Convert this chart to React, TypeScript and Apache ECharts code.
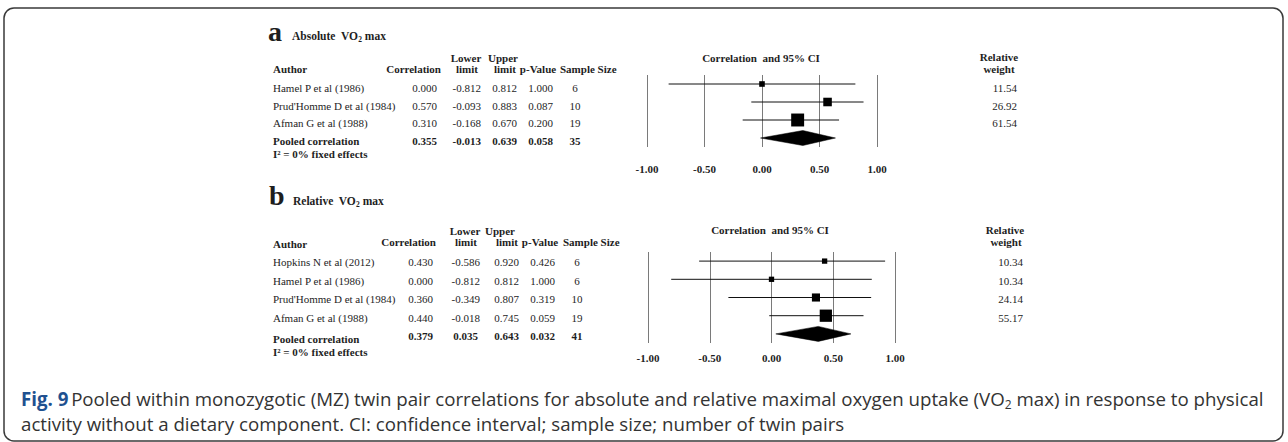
import React, { useEffect, useRef } from 'react';
import * as echarts from 'echarts';

// ---------- data ----------
const authorsA = ['Hamel P et al (1986)', "Prud'Homme D et al (1984)", 'Afman G et al (1988)'];
const corrA = [0.0, 0.57, 0.31];
const lowerA = [-0.812, -0.093, -0.168];
const upperA = [0.812, 0.883, 0.67];
const pA = [1.0, 0.087, 0.2];
const nA = [6, 10, 19];
const weightA = [11.54, 26.92, 61.54];
const pooledA = [0.355, -0.013, 0.639, 0.058, 35]; // corr, lower, upper, p, n

const authorsB = ['Hopkins N et al (2012)', 'Hamel P et al (1986)', "Prud'Homme D et al (1984)", 'Afman G et al (1988)'];
const corrB = [0.43, 0.0, 0.36, 0.44];
const lowerB = [-0.586, -0.812, -0.349, -0.018];
const upperB = [0.92, 0.812, 0.807, 0.745];
const pB = [0.426, 1.0, 0.319, 0.059];
const nB = [6, 6, 10, 19];
const weightB = [10.34, 10.34, 24.14, 55.17];
const pooledB = [0.379, 0.035, 0.643, 0.032, 41];

const tickValues = [-1, -0.5, 0, 0.5, 1];
const captionLine1a = 'Pooled within monozygotic (MZ) twin pair correlations for absolute and relative maximal oxygen uptake (VO';
const captionLine1b = ' max) in response to physical';
const captionLine2 = 'activity without a dietary component. CI: confidence interval; sample size; number of twin pairs';

// ---------- styles ----------
const SERIF = '"Liberation Serif", "Times New Roman", serif';
const SANS = '"Open Sans", "Noto Sans", sans-serif';
const INK = '#1e1e1e';

function t(text: string, x: number, y: number, o: any = {}) {
  const align = o.align || 'left';
  return {
    type: 'text',
    silent: true,
    style: {
      text,
      x,
      y,
      fill: o.fill || INK,
      fontSize: o.size || 11,
      fontFamily: o.family || SERIF,
      fontWeight: o.bold ? 'bold' : 'normal',
      align,
      textAlign: align,
      verticalAlign: 'middle',
      textVerticalAlign: 'middle',
      rich: o.rich,
    },
  };
}

const f3 = (v: number) => v.toFixed(3);

const titleRich = {
  b: { fontSize: 11.5, fontWeight: 'bold', fontFamily: SERIF, lineHeight: 14, fill: INK, color: INK },
  s: { fontSize: 7.5, fontWeight: 'bold', fontFamily: SERIF, verticalAlign: 'bottom', fill: INK, color: INK },
};

function tableA(): any[] {
  const els: any[] = [];
  els.push(t('a', 268, 31.5, { size: 28, bold: true }));
  els.push(t('{b|Absolute  VO}{s|2}{b| max}', 292, 36, { rich: titleRich }));
  // headers
  els.push(t('Author', 273, 69, { bold: true }));
  els.push(t('Correlation', 441, 69, { bold: true, align: 'right' }));
  els.push(t('Lower', 466, 58, { bold: true, align: 'center' }));
  els.push(t('limit', 467, 69, { bold: true, align: 'center' }));
  els.push(t('Upper', 503, 58, { bold: true, align: 'center' }));
  els.push(t('limit', 505, 69, { bold: true, align: 'center' }));
  els.push(t('p-Value', 538, 69, { bold: true, align: 'center' }));
  els.push(t('Sample Size', 560, 69, { bold: true }));
  els.push(t('Correlation  and 95% CI', 761, 58, { bold: true, align: 'center' }));
  els.push(t('Relative', 999, 57, { bold: true, align: 'center' }));
  els.push(t('weight', 999, 69, { bold: true, align: 'center' }));
  const rows = [88, 106, 123];
  authorsA.forEach((a, i) => {
    const y = rows[i];
    els.push(t(a, 273, y));
    els.push(t(f3(corrA[i]), 437, y, { align: 'right' }));
    els.push(t(f3(lowerA[i]), 481, y, { align: 'right' }));
    els.push(t(f3(upperA[i]), 517, y, { align: 'right' }));
    els.push(t(f3(pA[i]), 553, y, { align: 'right' }));
    els.push(t(String(nA[i]), 575, y, { align: 'center' }));
    els.push(t(weightA[i].toFixed(2), 1017, y, { align: 'right' }));
  });
  const py = 141;
  els.push(t('Pooled correlation', 273, py, { bold: true }));
  els.push(t(f3(pooledA[0]), 437, py, { bold: true, align: 'right' }));
  els.push(t(f3(pooledA[1]), 481, py, { bold: true, align: 'right' }));
  els.push(t(f3(pooledA[2]), 517, py, { bold: true, align: 'right' }));
  els.push(t(f3(pooledA[3]), 553, py, { bold: true, align: 'right' }));
  els.push(t(String(pooledA[4]), 575, py, { bold: true, align: 'center' }));
  els.push(t('I\u00B2 = 0% fixed effects', 273, 154, { bold: true }));
  return els;
}

function tableB(): any[] {
  const els: any[] = [];
  els.push(t('b', 269, 195.5, { size: 28, bold: true }));
  els.push(t('{b|Relative  VO}{s|2}{b| max}', 293, 201, { rich: titleRich }));
  els.push(t('Author', 273, 244, { bold: true }));
  els.push(t('Correlation', 436, 242, { bold: true, align: 'right' }));
  els.push(t('Lower', 465, 231, { bold: true, align: 'center' }));
  els.push(t('limit', 466, 242, { bold: true, align: 'center' }));
  els.push(t('Upper', 500, 231, { bold: true, align: 'center' }));
  els.push(t('limit', 507, 242, { bold: true, align: 'center' }));
  els.push(t('p-Value', 540, 242, { bold: true, align: 'center' }));
  els.push(t('Sample Size', 563, 242, { bold: true }));
  els.push(t('Correlation  and 95% CI', 770, 230, { bold: true, align: 'center' }));
  els.push(t('Relative', 1005, 230, { bold: true, align: 'center' }));
  els.push(t('weight', 1006, 242, { bold: true, align: 'center' }));
  const rows = [262, 281, 299, 318];
  authorsB.forEach((a, i) => {
    const y = rows[i];
    els.push(t(a, 273, y));
    els.push(t(f3(corrB[i]), 433, y, { align: 'right' }));
    els.push(t(f3(lowerB[i]), 480, y, { align: 'right' }));
    els.push(t(f3(upperB[i]), 519, y, { align: 'right' }));
    els.push(t(f3(pB[i]), 555, y, { align: 'right' }));
    els.push(t(String(nB[i]), 577, y, { align: 'center' }));
    els.push(t(weightB[i].toFixed(2), 1023, y, { align: 'right' }));
  });
  const py = 336;
  els.push(t('Pooled correlation', 273, 339, { bold: true }));
  els.push(t(f3(pooledB[0]), 433, py, { bold: true, align: 'right' }));
  els.push(t(f3(pooledB[1]), 478, py, { bold: true, align: 'right' }));
  els.push(t(f3(pooledB[2]), 519, py, { bold: true, align: 'right' }));
  els.push(t(f3(pooledB[3]), 555, py, { bold: true, align: 'right' }));
  els.push(t(String(pooledB[4]), 577, py, { bold: true, align: 'center' }));
  els.push(t('I\u00B2 = 0% fixed effects', 273, 352, { bold: true }));
  return els;
}

function caption(): any[] {
  const fs = 18.7;
  const capRich = {
    f: { fontSize: fs, fontWeight: 'bold', fontFamily: SANS, lineHeight: 24, fill: '#1f5190', color: '#1f5190' },
    c: { fontSize: fs, fontFamily: SANS, lineHeight: 24, fill: '#333', color: '#333' },
    s: { fontSize: 12, fontFamily: SANS, verticalAlign: 'bottom', fill: '#333', color: '#333' },
  };
  return [
    t('{f|Fig. 9} {c|' + captionLine1a + '}{s|2}{c|' + captionLine1b + '}', 21, 398, { rich: capRich }),
    t('{c|' + captionLine2 + '}', 21, 423, { rich: capRich }),
  ];
}

function forestSeries(idx: number, est: number[], lo: number[], hi: number[], w: number[], pooled: number[]) {
  const data: number[][] = est.map((e, i) => [e, lo[i], hi[i], w[i], i, 0]);
  data.push([pooled[0], pooled[1], pooled[2], 0, est.length, 1]);
  return {
    type: 'custom',
    xAxisIndex: idx,
    yAxisIndex: idx,
    silent: true,
    encode: { x: [0, 1, 2], y: 4 },
    data,
    renderItem: (_p: any, api: any) => {
      const e = api.value(0);
      const l = api.value(1);
      const h = api.value(2);
      const wt = api.value(3);
      const row = api.value(4);
      const isPooled = api.value(5);
      const pe = api.coord([e, row]);
      const pl = api.coord([l, row]);
      const ph = api.coord([h, row]);
      if (isPooled) {
        const hh = 7.5;
        return {
          type: 'polygon',
          shape: { points: [[pl[0], pe[1]], [pe[0], pe[1] - hh], [ph[0], pe[1]], [pe[0], pe[1] + hh]] },
          style: { fill: '#000', stroke: '#000', lineWidth: 0.5 },
        };
      }
      const s = 1.65 * Math.sqrt(wt);
      return {
        type: 'group',
        children: [
          { type: 'line', shape: { x1: pl[0], y1: pe[1], x2: ph[0], y2: pe[1] }, style: { stroke: '#111', lineWidth: 1 } },
          { type: 'rect', shape: { x: pe[0] - s / 2, y: pe[1] - s / 2, width: s, height: s }, style: { fill: '#000' } },
        ],
      };
    },
  };
}

function xAxis(gridIndex: number, margin: number) {
  return {
    type: 'value',
    gridIndex,
    min: -1,
    max: 1,
    interval: 0.5,
    axisLine: { show: false },
    axisTick: { show: false },
    splitLine: { show: true, lineStyle: { color: '#7a7a7a', width: 1 } },
    axisLabel: {
      margin,
      fontFamily: SERIF,
      fontWeight: 'bold',
      fontSize: 11,
      color: INK,
      formatter: (v: number) => v.toFixed(2),
      customValues: tickValues,
    },
  };
}

export default function App() {
  const ref = useRef<HTMLDivElement>(null);
  useEffect(() => {
    if (!ref.current) return;
    const chart = echarts.init(ref.current, undefined, { renderer: 'svg' });
    chart.setOption({
      animation: false,
      backgroundColor: '#fff',
      grid: [
        { left: 647, top: 75, width: 230, height: 72, outerBoundsMode: 'none' },
        { left: 648, top: 252, width: 247, height: 91, outerBoundsMode: 'none' },
      ],
      xAxis: [xAxis(0, 16), xAxis(1, 9)],
      yAxis: [
        { type: 'category', gridIndex: 0, inverse: true, data: [...authorsA, 'Pooled'], show: false },
        { type: 'category', gridIndex: 1, inverse: true, data: [...authorsB, 'Pooled'], show: false },
      ],
      series: [
        forestSeries(0, corrA, lowerA, upperA, weightA, pooledA),
        forestSeries(1, corrB, lowerB, upperB, weightB, pooledB),
      ],
      graphic: [
        {
          type: 'rect',
          silent: true,
          shape: { x: 4, y: 8, width: 1279, height: 433, r: 10 },
          style: { fill: 'none', stroke: '#3a3a3a', lineWidth: 1.5 },
        },
        ...tableA(),
        ...tableB(),
        ...caption(),
      ],
    });
    return () => chart.dispose();
  }, []);
  return (
    <div
      ref={ref}
      style={{ position: 'fixed', left: 0, top: 0, width: 1288, height: 442, background: '#fff' }}
    />
  );
}
